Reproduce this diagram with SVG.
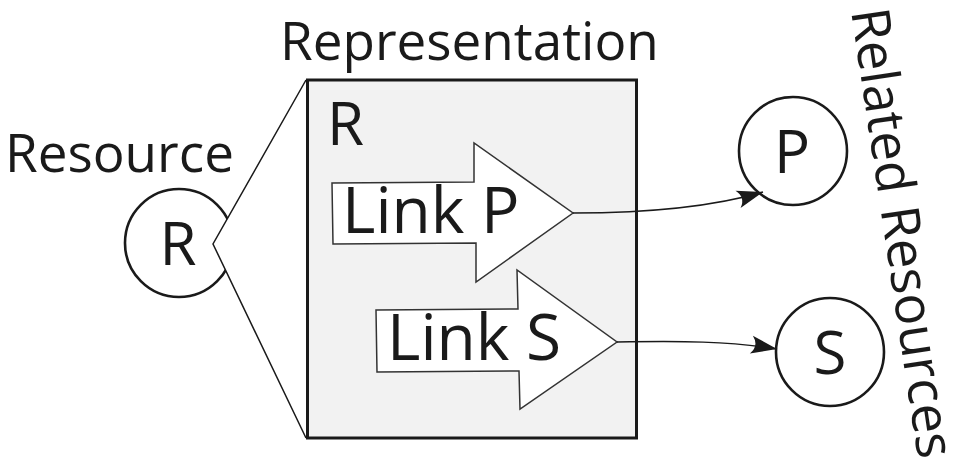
<svg xmlns="http://www.w3.org/2000/svg" width="954" height="458" viewBox="0 0 954 458">
<style>
text{font-family:"Open Sans","Liberation Sans",sans-serif;fill:#1a1a1a}
.lbl{font-size:53px}
.big{font-size:60px}
.lnk{font-size:64px}
.node{fill:#fff;stroke:#1a1a1a;stroke-width:2.6}
.thin{fill:none;stroke:#1a1a1a;stroke-width:1.5}
.shape{fill:#fff;stroke:#333;stroke-width:1.5}
</style>
<defs>
<marker id="arr" markerUnits="userSpaceOnUse" markerWidth="32" markerHeight="22" viewBox="-28 -11 32 22" refX="0" refY="0" orient="auto">
<path d="M0,0 L-26,-9 Q-18,0 -26,9 Z" fill="#1a1a1a"/>
</marker>
</defs>
<rect width="954" height="458" fill="#fff"/>
<g id="resource">
<text class="lbl" x="5" y="172">Resource</text>
<circle class="node" cx="179" cy="243" r="54"/>
<text class="big" x="178" y="265" text-anchor="middle">R</text>
</g>
<g id="wedge">
<polygon points="213,244 306,80 306,438" fill="#fff" stroke="none"/>
<polyline class="thin" points="306,80 213,244 306,438"/>
</g>
<g id="representation">
<text class="lbl" x="280" y="60" font-size="54">Representation</text>
<rect x="307.5" y="80" width="329" height="358" fill="#f2f2f2" stroke="#1a1a1a" stroke-width="3"/>
<text class="big" x="327" y="145">R</text>
</g>
<g id="linkP">
<polygon class="shape" points="332,183 474,182 474,143 573,213 476,282 476,243 333,244"/>
<text class="lnk" x="342" y="233">Link P</text>
</g>
<g id="linkS">
<polygon class="shape" points="376,310 518,309 517,270 617,342 520,409 519,371 377,372"/>
<text class="lnk" x="387" y="360">Link S</text>
</g>
<g id="P">
<circle class="node" cx="793" cy="151" r="54"/>
<text class="big" x="792" y="173" text-anchor="middle">P</text>
</g>
<g id="S">
<circle class="node" cx="830" cy="352" r="54"/>
<text class="big" x="830" y="374" text-anchor="middle">S</text>
</g>
<g id="related">
<text class="lbl" font-size="54" transform="translate(851,11) rotate(81.5)">Related Resources</text>
</g>
<g id="connectors">
<path class="thin" d="M573,213 C650,213 712,207 763,192" marker-end="url(#arr)"/>
<path class="thin" d="M617,342 C680,341 730,341 777,349" marker-end="url(#arr)"/>
</g>
</svg>
